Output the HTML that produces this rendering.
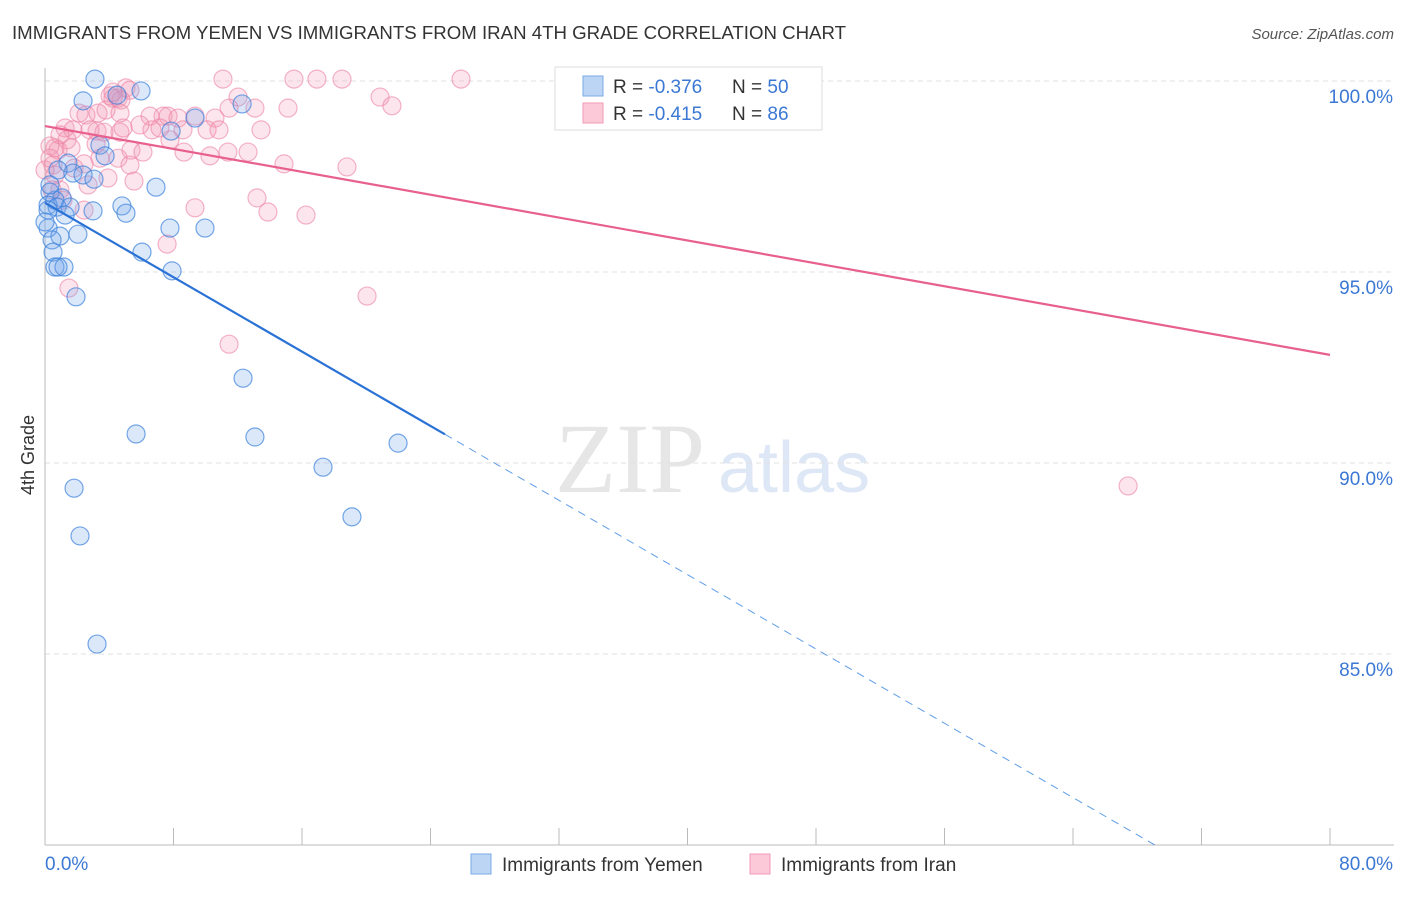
<!DOCTYPE html>
<html><head><meta charset="utf-8">
<style>
body{margin:0;background:#fff;font-family:"Liberation Sans",sans-serif;}
</style></head>
<body>
<svg width="1406" height="892" xmlns="http://www.w3.org/2000/svg" id="svg" style="font-family:'Liberation Sans',sans-serif">
<text x="12" y="39" font-size="18" fill="#333" textLength="834" lengthAdjust="spacingAndGlyphs">IMMIGRANTS FROM YEMEN VS IMMIGRANTS FROM IRAN 4TH GRADE CORRELATION CHART</text>
<text x="1394" y="39" font-size="15" fill="#555" font-style="italic" text-anchor="end">Source: ZipAtlas.com</text>
<text x="555" y="492" font-size="100" fill="#e6e6e6" font-family="Liberation Serif">ZIP</text>
<text x="718" y="492" font-size="72" fill="#dde7f5">atlas</text>
<text transform="translate(34,455) rotate(-90)" font-size="18" fill="#333" text-anchor="middle">4th Grade</text>
<g id="grid"></g>
<g id="marks"></g>
<g>
<rect x="555" y="67" width="267" height="63" fill="#fff" stroke="#ddd"/>
<rect x="583" y="76" width="20" height="20" fill="#bcd5f5" stroke="#7aaae6"/>
<rect x="583" y="103" width="20" height="20" fill="#fbc9d8" stroke="#f09ab4"/>
<text x="613" y="93" font-size="19" fill="#333">R = <tspan fill="#3b78d4">-0.376</tspan></text>
<text x="732" y="93" font-size="19" fill="#333">N = <tspan fill="#3b78d4">50</tspan></text>
<text x="613" y="120" font-size="19" fill="#333">R = <tspan fill="#3b78d4">-0.415</tspan></text>
<text x="732" y="120" font-size="19" fill="#333">N = <tspan fill="#3b78d4">86</tspan></text>
</g>
<g>
<rect x="471" y="854" width="20" height="20" fill="#bcd5f5" stroke="#7aaae6"/>
<text x="502" y="871" font-size="19" fill="#333">Immigrants from Yemen</text>
<rect x="750" y="854" width="20" height="20" fill="#fbc9d8" stroke="#f09ab4"/>
<text x="781" y="871" font-size="19" fill="#333">Immigrants from Iran</text>
</g>
</svg>
<script>
const yemenX=[3.11,5.98,2.37,4.48,12.27,9.34,7.85,3.42,3.74,1.43,1.74,2.37,3.05,6.91,0.31,1.06,0.62,0.19,0.75,1.56,2.99,4.79,5.04,0.19,0.93,2.05,9.96,7.78,0.44,0.50,6.04,0.62,1.18,7.91,1.93,12.33,5.67,13.07,21.98,17.31,1.81,19.11,2.18,3.24,0.19,0,1.25,0.31,0.81,0.81];
const yemenY=[100.05,99.74,99.48,99.63,99.40,99.03,98.69,98.32,98.04,97.85,97.59,97.54,97.43,97.22,97.09,96.94,96.88,96.75,96.70,96.70,96.60,96.73,96.54,96.15,95.94,95.99,96.15,96.15,95.84,95.52,95.52,95.13,95.13,95.03,94.35,92.22,90.76,90.68,90.52,89.89,89.34,88.59,88.09,85.26,96.62,96.31,96.49,97.28,95.13,97.67];
const iranX=[11.08,15.50,16.93,18.49,25.90,12.02,20.86,21.60,15.13,11.46,13.07,7.35,7.66,9.34,10.58,8.28,10.09,13.45,10.83,6.66,8.59,6.54,5.04,5.29,4.23,4.55,4.05,4.73,2.12,2.55,3.30,1.25,1.74,3.24,4.67,3.67,1.37,0.62,0.81,0.31,5.35,4.55,6.10,8.65,11.39,12.64,10.27,14.88,18.80,3.42,2.43,5.29,0.50,0.62,3.92,5.54,2.68,0.44,0.93,13.20,2.43,9.34,13.88,16.25,7.60,1.49,20.05,11.46,67.43,1.62,2.80,4.86,0.93,0,5.91,7.16,3.80,3.18,1.81,1.12,0.31,4.23,4.67,7.78];
const iranY=[100.05,100.05,100.05,100.05,100.05,99.58,99.58,99.35,99.29,99.29,99.29,99.08,99.08,99.08,99.03,99.03,98.72,98.72,98.72,98.72,98.72,99.08,99.82,99.76,99.55,99.55,99.61,99.50,99.16,99.11,99.16,98.77,98.72,98.69,98.66,98.66,98.46,98.25,98.19,98.30,98.19,97.98,98.14,98.14,98.14,98.14,98.04,97.83,97.75,97.98,97.83,97.80,97.80,97.54,97.46,97.38,97.28,97.15,97.15,96.94,96.62,96.68,96.57,96.49,95.73,94.58,94.37,93.11,89.40,98.25,98.72,98.77,98.59,97.67,98.85,98.77,99.24,98.35,97.72,96.88,97.98,99.71,99.16,98.46];
const yTicks=[100,95,90,85];
const yTickLabels=["100.0%","95.0%","90.0%","85.0%"];
const xTicks=[0,8,16,24,32,40,48,56,64,72,80];
const yemenTrend=[[0,96.81],[24.9,90.75],[69.1,80]];
const iranTrend=[[0,98.82],[80,92.83]];
const X=v=>45+v/80*1285;
const Y=v=>81+(100-v)/5*191;
const NS="http://www.w3.org/2000/svg";
const grid=document.getElementById('grid'),marks=document.getElementById('marks');
function mk(tag,at,parent){const e=document.createElementNS(NS,tag);for(const k in at)e.setAttribute(k,at[k]);parent.appendChild(e);return e;}
yTicks.forEach((t,i)=>{
 const l=mk('line',{x1:45,x2:1394,y1:Y(t),y2:Y(t),stroke:'#e2e2e2','stroke-dasharray':'5,4'},grid);
 
 
 const tx=mk('text',{x:1393,y:Y(t)+22,'font-size':19,fill:'#3b78d4','text-anchor':'end'},grid);
 tx.textContent=yTickLabels[i];
 
 
});
const ax=mk('line',{x1:45,x2:45,y1:68,y2:845,stroke:'#bbb'},grid);


const bx=mk('line',{x1:45,x2:1394,y1:845,y2:845,stroke:'#bbb'},grid);


xTicks.forEach(t=>{
 const l=mk('line',{x1:X(t),x2:X(t),y1:828,y2:845,stroke:'#bbb'},grid);
 
 
});
const x0=mk('text',{x:45,y:870,'font-size':19,fill:'#3b78d4'},grid);x0.textContent='0.0%';


const x1=mk('text',{x:1393,y:870,'font-size':19,fill:'#3b78d4','text-anchor':'end'},grid);x1.textContent='80.0%';


iranX.forEach((v,i)=>{
 const c=mk('circle',{cx:X(v),cy:Y(iranY[i]),r:9,fill:'rgba(245,150,180,0.25)',stroke:'rgba(236,130,165,0.6)','stroke-width':1.2},marks);
 
 
});
yemenX.forEach((v,i)=>{
 const c=mk('circle',{cx:X(v),cy:Y(yemenY[i]),r:9,fill:'rgba(110,165,235,0.25)',stroke:'rgba(60,130,220,0.7)','stroke-width':1.2},marks);
 
 
});
const p=mk('line',{x1:X(iranTrend[0][0]),y1:Y(iranTrend[0][1]),x2:X(iranTrend[1][0]),y2:Y(iranTrend[1][1]),stroke:'#e8608e','stroke-width':2.2},marks);


const b=mk('line',{x1:X(yemenTrend[0][0]),y1:Y(yemenTrend[0][1]),x2:X(yemenTrend[1][0]),y2:Y(yemenTrend[1][1]),stroke:'#2a72d6','stroke-width':2.2},marks);


const bd=mk('line',{x1:X(yemenTrend[1][0]),y1:Y(yemenTrend[1][1]),x2:X(yemenTrend[2][0]),y2:Y(yemenTrend[2][1]),stroke:'#5f9de6','stroke-width':1,'stroke-dasharray':'8,6'},marks);


</script>
</body></html>
